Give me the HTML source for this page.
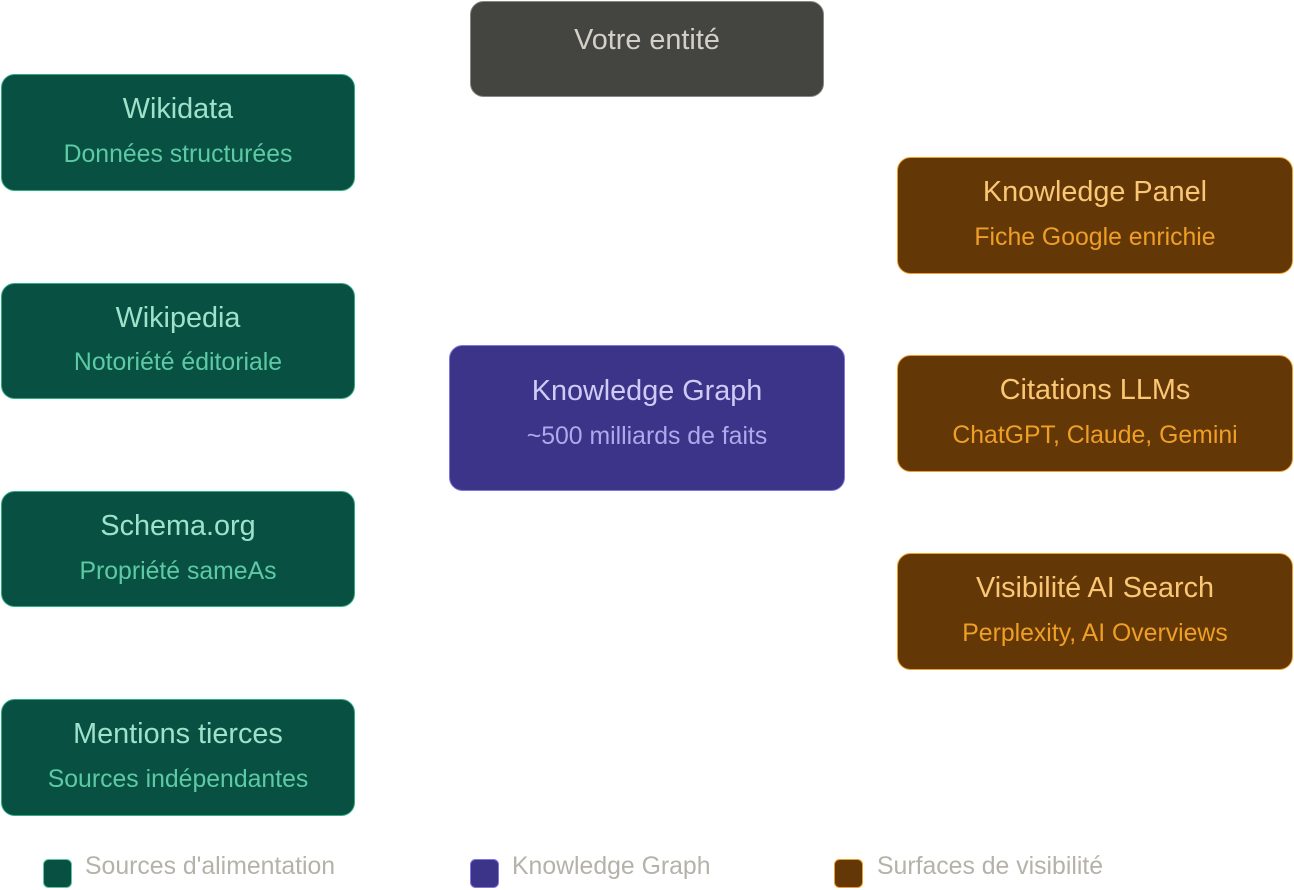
<!DOCTYPE html>
<html>
<head>
<meta charset="utf-8">
<style>
  html, body { margin: 0; padding: 0; background: #ffffff; }
  body { width: 1294px; height: 890px; overflow: hidden; }
  svg { display: block; }
  text { font-family: "Liberation Sans", Arial, sans-serif; }
</style>
</head>
<body>
<svg width="1294" height="890" viewBox="0 0 1294 890" xmlns="http://www.w3.org/2000/svg">
  <!-- Votre entité -->
  <rect x="470.5" y="1.5" width="353" height="95" rx="13" fill="#444441" stroke="#888780" stroke-width="1"/>
  <text x="647" y="49" text-anchor="middle" font-size="28.8" fill="#D3D1C7">Votre entité</text>

  <!-- Left column: sources -->
  <g>
    <rect x="1.5" y="74.5" width="353" height="116" rx="13" fill="#085041" stroke="#2fae82" stroke-width="1"/>
    <text x="178" y="118" text-anchor="middle" font-size="28.8" fill="#9FE1CB">Wikidata</text>
    <text x="178" y="162" text-anchor="middle" font-size="24.8" fill="#5DCAA5">Données structurées</text>

    <rect x="1.5" y="283.5" width="353" height="115" rx="13" fill="#085041" stroke="#2fae82" stroke-width="1"/>
    <text x="178" y="327" text-anchor="middle" font-size="28.8" fill="#9FE1CB">Wikipedia</text>
    <text x="178" y="370" text-anchor="middle" font-size="24.8" fill="#5DCAA5">Notoriété éditoriale</text>

    <rect x="1.5" y="491.5" width="353" height="115" rx="13" fill="#085041" stroke="#2fae82" stroke-width="1"/>
    <text x="178" y="535" text-anchor="middle" font-size="28.8" fill="#9FE1CB">Schema.org</text>
    <text x="178" y="579" text-anchor="middle" font-size="24.8" fill="#5DCAA5">Propriété sameAs</text>

    <rect x="1.5" y="699.5" width="353" height="116" rx="13" fill="#085041" stroke="#2fae82" stroke-width="1"/>
    <text x="178" y="743" text-anchor="middle" font-size="28.8" fill="#9FE1CB">Mentions tierces</text>
    <text x="178" y="787" text-anchor="middle" font-size="24.8" fill="#5DCAA5">Sources indépendantes</text>
  </g>

  <!-- Knowledge Graph -->
  <rect x="449.5" y="345.5" width="395" height="145" rx="13" fill="#3C3489" stroke="#7F77DD" stroke-width="1"/>
  <text x="647" y="400" text-anchor="middle" font-size="28.8" fill="#CECBF6">Knowledge Graph</text>
  <text x="647" y="444" text-anchor="middle" font-size="24.8" fill="#AFA9EC">~500 milliards de faits</text>

  <!-- Right column: surfaces -->
  <g>
    <rect x="897.5" y="157.5" width="395" height="116" rx="13" fill="#633806" stroke="#EF9F27" stroke-width="1"/>
    <text x="1095" y="201" text-anchor="middle" font-size="28.8" fill="#FAC775">Knowledge Panel</text>
    <text x="1095" y="245" text-anchor="middle" font-size="24.8" fill="#EF9F27">Fiche Google enrichie</text>

    <rect x="897.5" y="355.5" width="395" height="116" rx="13" fill="#633806" stroke="#EF9F27" stroke-width="1"/>
    <text x="1095" y="399" text-anchor="middle" font-size="28.8" fill="#FAC775">Citations LLMs</text>
    <text x="1095" y="443" text-anchor="middle" font-size="24.8" fill="#EF9F27">ChatGPT, Claude, Gemini</text>

    <rect x="897.5" y="553.5" width="395" height="116" rx="13" fill="#633806" stroke="#EF9F27" stroke-width="1"/>
    <text x="1095" y="597" text-anchor="middle" font-size="28.8" fill="#FAC775">Visibilité AI Search</text>
    <text x="1095" y="641" text-anchor="middle" font-size="24.8" fill="#EF9F27">Perplexity, AI Overviews</text>
  </g>

  <!-- Legend -->
  <rect x="43.5" y="859.5" width="28" height="28" rx="5" fill="#085041" stroke="#5DCAA5" stroke-width="1"/>
  <text x="85" y="874" font-size="24.8" fill="#B4B2A9">Sources d'alimentation</text>

  <rect x="470.5" y="859.5" width="28" height="28" rx="5" fill="#3C3489" stroke="#7F77DD" stroke-width="1"/>
  <text x="512" y="874" font-size="24.8" fill="#B4B2A9">Knowledge Graph</text>

  <rect x="834.5" y="859.5" width="28" height="28" rx="5" fill="#633806" stroke="#EF9F27" stroke-width="1"/>
  <text x="877" y="874" font-size="24.8" fill="#B4B2A9">Surfaces de visibilité</text>
</svg>
</body>
</html>
